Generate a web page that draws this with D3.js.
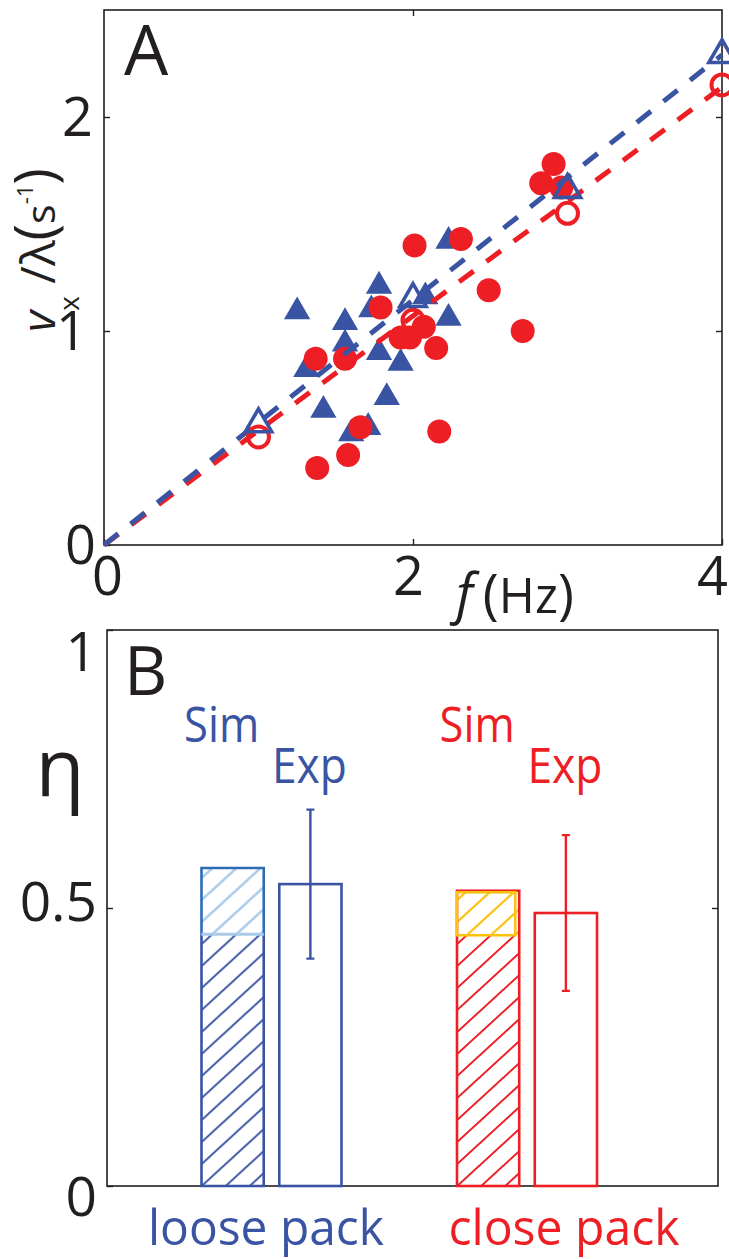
<!DOCTYPE html>
<html>
<head>
<meta charset="utf-8">
<script src="https://cdn.jsdelivr.net/npm/d3@7"></script>
<style>
  html, body { margin: 0; padding: 0; background: #fff; }
  svg { display: block; font-family: "Open Sans", sans-serif; }
</style>
</head>
<body>
<svg id="fig" width="729" height="1259"></svg>
<script>
/* Panel A — speed vs frequency; Panel B — efficiency bars */

// ---- panel A data (f in Hz, v_x/lambda in 1/s) ----
const simFreq  = [1, 2, 3, 4];
const simLoose = [0.565, 1.15, 1.66, 2.29];
const simClose = [0.505, 1.05, 1.55, 2.15];
const fitFreq  = [0, 4];
const fitLoose = [0, 2.29];
const fitClose = [0, 2.14];

const expLooseF = [1.25, 1.78, 2.23, 1.56, 1.73, 2.08, 2.23, 1.56, 1.78, 1.92, 1.31, 1.83, 1.42, 1.71, 1.60];
const expLooseV = [1.09, 1.21, 1.42, 1.04, 1.10, 1.16, 1.06, 0.94, 0.90, 0.85, 0.82, 0.69, 0.63, 0.55, 0.52];
const expCloseF = [2.01, 2.31, 2.49, 1.79, 2.07, 1.92, 1.98, 2.15, 1.37, 1.56, 1.66, 2.17, 1.58, 1.38, 2.91, 2.83, 2.96, 2.71];
const expCloseV = [1.40, 1.43, 1.19, 1.11, 1.02, 0.97, 0.97, 0.92, 0.87, 0.87, 0.55, 0.53, 0.42, 0.36, 1.78, 1.69, 1.67, 1.00];

const xTicksA = [0, 2, 4];
const yTicksA = [0, 1, 2];

// ---- panel B data ----
const packs   = ['loose pack', 'close pack'];
const simBase = [0.453, 0.451];
const simTop  = [0.572, 0.531];
const expMean = [0.543, 0.491];
const expErr  = [0.134, 0.140];
const yTicksB = [0, 0.5, 1];

const BLUE = '#3a54a4', RED = '#ed1f24', LIGHT = '#a9cbe9', MID = '#2d6cb5', YELLOW = '#fdc210', INK = '#231f20';
const fmt = d3.format('~g');

const svg = d3.select('#fig');
svg.append('rect').attr('width', 729).attr('height', 1259).attr('fill', '#fff');

// hatch patterns
const defs = svg.append('defs');
function hatch(id, color, sw) {
  const w = 24, h = 22;
  const p = defs.append('pattern').attr('id', id).attr('patternUnits', 'userSpaceOnUse')
    .attr('width', w).attr('height', h);
  const d = [-1, 0, 1].map(k => `M${-3},${h + k * h + 3 * h / w} L${w + 3},${k * h - 3 * h / w}`).join(' ');
  p.append('path').attr('d', d).attr('stroke', color).attr('stroke-width', sw).attr('fill', 'none');
}
hatch('hBlue', BLUE, 2);
hatch('hLight', LIGHT, 2.4);
hatch('hRed', RED, 2);
hatch('hYellow', YELLOW, 2.2);

function styleTicks(g, size) {
  g.select('.domain').remove();
  g.selectAll('.tick line').attr('stroke', INK).attr('stroke-width', 1.4);
  g.selectAll('.tick text').attr('fill', INK).attr('font-size', size)
    .attr('font-family', '"Open Sans", sans-serif');
}

/* ═══════════ Panel A ═══════════ */
const A = { left: 104, right: 722, top: 10, bottom: 545 };
const xA = d3.scaleLinear().domain([0, 4]).range([A.left, A.right]);
const yA = d3.scaleLinear().domain([0, 2.5]).range([A.bottom, A.top]);

svg.append('g').attr('transform', `translate(0,${A.bottom})`)
  .call(d3.axisBottom(xA).tickValues(xTicksA).tickFormat(fmt).tickSizeInner(-6).tickSizeOuter(0).tickPadding(12))
  .call(g => styleTicks(g, 54))
  .call(g => g.selectAll('.tick text').attr('dx', d => d === 4 ? -10 : d === 2 ? -5 : 3));
svg.append('g').attr('transform', `translate(0,${A.top})`)
  .call(d3.axisTop(xA).tickValues([2]).tickSizeInner(-6).tickSizeOuter(0).tickFormat(''))
  .call(g => styleTicks(g, 10));
svg.append('g').attr('transform', `translate(${A.left},0)`)
  .call(d3.axisLeft(yA).tickValues(yTicksA).tickFormat(fmt).tickSizeInner(-6).tickSizeOuter(0).tickPadding(11))
  .call(g => styleTicks(g, 54))
  .call(g => g.selectAll('.tick text').attr('dy', '0.34em').attr('dx', d => d === 0 ? 3 : d === 1 ? -6 : 0));
svg.append('g').attr('transform', `translate(${A.right},0)`)
  .call(d3.axisRight(yA).tickValues([1, 2]).tickSizeInner(-6).tickSizeOuter(0).tickFormat(''))
  .call(g => styleTicks(g, 10));

svg.append('rect').attr('x', A.left).attr('y', A.top)
  .attr('width', A.right - A.left).attr('height', A.bottom - A.top)
  .attr('fill', 'none').attr('stroke', INK).attr('stroke-width', 1.6);

const plotA = svg.append('g');
const tri = d3.symbol().type(d3.symbolTriangle).size(300);

// experiment: loose (filled triangles), close (filled circles)
plotA.selectAll('.exp-tri').data(d3.zip(expLooseF, expLooseV)).enter().append('path')
  .attr('d', tri).attr('transform', d => `translate(${xA(d[0])},${yA(d[1])})`).attr('fill', BLUE);
plotA.selectAll('.exp-dot').data(d3.zip(expCloseF, expCloseV)).enter().append('circle')
  .attr('cx', d => xA(d[0])).attr('cy', d => yA(d[1])).attr('r', 12).attr('fill', RED);

// dashed fits
const line = d3.line().x(d => xA(d[0])).y(d => yA(d[1]));
plotA.append('path').attr('d', line(d3.zip(fitFreq, fitClose)))
  .attr('stroke', RED).attr('stroke-width', 5).attr('stroke-dasharray', '18,16').attr('fill', 'none');
plotA.append('path').attr('d', line(d3.zip(fitFreq, fitLoose)))
  .attr('stroke', BLUE).attr('stroke-width', 5).attr('stroke-dasharray', '18,16').attr('fill', 'none');

// simulation: open markers
plotA.selectAll('.sim-dot').data(d3.zip(simFreq, simClose)).enter().append('circle')
  .attr('cx', d => xA(d[0])).attr('cy', d => yA(d[1])).attr('r', 10.5)
  .attr('fill', 'none').attr('stroke', RED).attr('stroke-width', 4);
plotA.selectAll('.sim-tri').data(d3.zip(simFreq, simLoose)).enter().append('path')
  .attr('d', tri).attr('transform', d => `translate(${xA(d[0])},${yA(d[1])})`)
  .attr('fill', 'none').attr('stroke', BLUE).attr('stroke-width', 3.6);

// labels
svg.append('text').attr('x', 124).attr('y', 75).attr('font-size', 70).attr('fill', INK).text('A');

const yl = svg.append('text').attr('transform', 'translate(55,332) rotate(-90)').attr('fill', INK);
yl.append('tspan').attr('font-style', 'italic').attr('font-size', 46).text('v');
yl.append('tspan').attr('font-size', 28).attr('dy', 24).text('x');
yl.append('tspan').attr('font-size', 48).attr('dy', -24).text(' /λ');
yl.append('tspan').attr('font-size', 56).text('(');
yl.append('tspan').attr('font-size', 41).text('s');
yl.append('tspan').attr('font-size', 22).attr('dy', -22).text('-1');
yl.append('tspan').attr('font-size', 56).attr('dy', 22).text(')');

const xl = svg.append('text').attr('x', 456).attr('y', 613).attr('fill', INK);
xl.append('tspan').attr('font-style', 'italic').attr('font-size', 54).text('f');
xl.append('tspan').attr('font-size', 54).attr('dx', 10).text('(');
xl.append('tspan').attr('font-size', 49).text('Hz');
xl.append('tspan').attr('font-size', 54).text(')');

/* ═══════════ Panel B ═══════════ */
const B = { left: 107, right: 718, top: 630, bottom: 1186 };
const yB = d3.scaleLinear().domain([0, 1]).range([B.bottom, B.top]);
const xB = d3.scalePoint().domain(packs).range([271.5, 527]);
const xSub = d3.scaleBand().domain(['Sim', 'Exp']).range([-70, 70]).paddingInner(0.2);
const bw = xSub.bandwidth();

const labelShift = { 0: 11, 0.5: -6, 1: 22 };
svg.append('g').attr('transform', `translate(${B.left},0)`)
  .call(d3.axisLeft(yB).tickValues(yTicksB).tickSizeInner(-6).tickSizeOuter(0).tickPadding(10)
    .tickFormat(fmt))
  .call(g => styleTicks(g, 55))
  .call(g => g.selectAll('.tick text').attr('y', d => labelShift[d]).attr('dy', '0.34em'));
svg.append('g').attr('transform', `translate(${B.right},0)`)
  .call(d3.axisRight(yB).tickValues([0.5]).tickSizeInner(-6).tickSizeOuter(0).tickFormat(''))
  .call(g => styleTicks(g, 10));
svg.append('rect').attr('x', B.left).attr('y', B.top)
  .attr('width', B.right - B.left).attr('height', B.bottom - B.top)
  .attr('fill', 'none').attr('stroke', INK).attr('stroke-width', 1.6);

const groupStyle = [
  { main: BLUE, hMain: 'url(#hBlue)', top: LIGHT, hTop: 'url(#hLight)', edge: MID },
  { main: RED, hMain: 'url(#hRed)', top: YELLOW, hTop: 'url(#hYellow)', edge: YELLOW }
];

packs.forEach((p, i) => {
  const st = groupStyle[i];
  const g = svg.append('g').attr('transform', `translate(${xB(p)},0)`);
  const sx = xSub('Sim'), ex = xSub('Exp');

  // simulation bar: hatched base + highlighted top
  g.append('rect').attr('x', sx).attr('y', yB(simBase[i])).attr('width', bw)
    .attr('height', yB(0) - yB(simBase[i])).attr('fill', st.hMain);
  g.append('rect').attr('x', sx).attr('y', yB(simTop[i])).attr('width', bw)
    .attr('height', yB(simBase[i]) - yB(simTop[i])).attr('fill', st.hTop);
  if (i === 0) {
    g.append('path').attr('d', `M${sx},${yB(simBase[i])} V${yB(0)} H${sx + bw} V${yB(simBase[i])}`)
      .attr('fill', 'none').attr('stroke', st.main).attr('stroke-width', 2.6);
    g.append('path').attr('d', `M${sx},${yB(simBase[i])} V${yB(simTop[i])} H${sx + bw} V${yB(simBase[i])}`)
      .attr('fill', 'none').attr('stroke', st.edge).attr('stroke-width', 2.6);
    g.append('line').attr('x1', sx).attr('x2', sx + bw).attr('y1', yB(simBase[i])).attr('y2', yB(simBase[i]))
      .attr('stroke', st.top).attr('stroke-width', 3);
  } else {
    g.append('rect').attr('x', sx).attr('y', yB(simTop[i])).attr('width', bw)
      .attr('height', yB(0) - yB(simTop[i])).attr('fill', 'none')
      .attr('stroke', st.main).attr('stroke-width', 2.6);
    g.append('rect').attr('x', sx).attr('y', yB(simTop[i]) + 1.5).attr('width', bw - 4)
      .attr('height', yB(simBase[i]) - yB(simTop[i]) - 1.5).attr('fill', 'none')
      .attr('stroke', st.edge).attr('stroke-width', 2.6);
  }

  // experiment bar + error bar
  g.append('rect').attr('x', ex).attr('y', yB(expMean[i])).attr('width', bw)
    .attr('height', yB(0) - yB(expMean[i])).attr('fill', 'none')
    .attr('stroke', st.main).attr('stroke-width', 2.6);
  const cx = ex + bw / 2;
  const lo = yB(expMean[i] - expErr[i]), hi = yB(expMean[i] + expErr[i]);
  g.append('path').attr('d', `M${cx},${lo} V${hi} M${cx - 4},${hi} H${cx + 4} M${cx - 4},${lo} H${cx + 4}`)
    .attr('stroke', st.main).attr('stroke-width', 2.4).attr('fill', 'none');

  // Sim / Exp labels
  g.append('text').attr('x', sx + bw / 2 - 11).attr('y', 742).attr('text-anchor', 'middle')
    .attr('font-size', 49).attr('fill', st.main)
    .attr('textLength', 75).attr('lengthAdjust', 'spacingAndGlyphs').text('Sim');
  g.append('text').attr('x', cx - 1).attr('y', 783).attr('text-anchor', 'middle')
    .attr('font-size', 49).attr('fill', st.main)
    .attr('textLength', 75).attr('lengthAdjust', 'spacingAndGlyphs').text('Exp');
});

// category labels under the axis
const catX = [266, 564], catW = [236, 231];
packs.forEach((p, i) => {
  svg.append('text').attr('x', catX[i]).attr('y', 1245).attr('text-anchor', 'middle')
    .attr('font-size', 50).attr('fill', groupStyle[i].main)
    .attr('textLength', catW[i]).attr('lengthAdjust', 'spacingAndGlyphs').text(p);
});

svg.append('text').attr('x', 124).attr('y', 695).attr('font-size', 67).attr('fill', INK).text('B');
svg.append('text').attr('x', 60).attr('y', 797).attr('text-anchor', 'middle')
  .attr('font-size', 80).attr('fill', INK).text('η');
</script>
</body>
</html>
